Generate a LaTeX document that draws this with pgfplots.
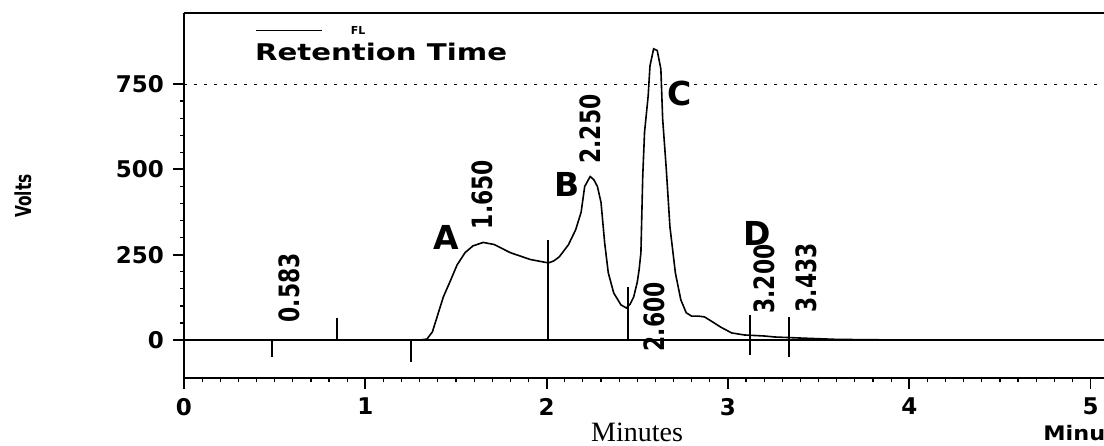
\documentclass[border=0pt]{standalone}
\usepackage{pgfplots}
\pgfplotsset{compat=1.18}
\usepackage{fontspec}
\setmainfont{Liberation Serif}
\newfontfamily\djs{DejaVu Sans}

% rotated retention-time labels (condensed look of the scan)
\newcommand\rt[1]{\scalebox{0.78}[1]{\djs\bfseries\fontsize{14}{14}\selectfont #1}}
\newcommand\pk[1]{\djs\bfseries\fontsize{16.5}{17}\selectfont #1}

\begin{document}
\begin{tikzpicture}
\begin{axis}[
  scale only axis,
  width=460pt, height=182.5pt,
  xmin=0, xmax=5.074,
  ymin=-111, ymax=958,
  axis x line=bottom, axis y line=left,
  axis line style={-, line width=1.1pt},
  tick align=outside,
  major tick length=5.5pt, minor tick length=2pt,
  every tick/.style={black, line width=0.9pt},
  minor tick style={line width=0.6pt},
  xtick={0,1,2,3,4,5},
  minor x tick num=9,
  ytick={0,250,500,750},
  minor y tick num=4,
  /pgf/number format/assume math mode=true,
  ticklabel style={font=\djs\bfseries\fontsize{11.5}{12}\selectfont},
  yticklabel style={xshift=-1pt},
  xticklabel style={yshift=-1pt},
  xlabel={Minutes},
  xlabel style={at={(axis description cs:0.4924,-0.149)}, anchor=center,
    font=\fontsize{14}{14}\selectfont},
  ylabel={\scalebox{0.7}[1]{\djs\bfseries\fontsize{11}{11}\selectfont Volts}},
  ylabel style={at={(axis description cs:-0.175,0.4986)}, anchor=center},
  clip=false,
]
% dashed reference line at 750
\addplot[black, line width=0.5pt, dash pattern=on 1.5pt off 3.5pt] coordinates {(0,750) (5.074,750)};
% baseline
\addplot[black, line width=0.8pt] coordinates {(0,0) (5.074,0)};
% chromatogram trace
\addplot[black, line width=0.8pt] coordinates {
(0,0) (1.30,0) (1.34,3) (1.37,24) (1.40,75) (1.43,126) (1.467,171) (1.506,220)
(1.55,256) (1.594,276) (1.65,286) (1.71,280) (1.80,256) (1.91,236) (2.01,226)
(2.04,232) (2.07,244) (2.12,279) (2.16,323) (2.19,374) (2.21,450) (2.24,479)
(2.26,470) (2.28,450) (2.30,403) (2.32,285) (2.34,197) (2.37,138) (2.41,103)
(2.44,94) (2.46,105) (2.48,126) (2.50,170) (2.51,206) (2.52,256) (2.53,479)
(2.54,609) (2.56,715) (2.57,803) (2.59,853) (2.61,848) (2.63,794) (2.64,647)
(2.66,500) (2.68,332) (2.71,197) (2.74,118) (2.77,80) (2.80,70) (2.84,70)
(2.87,68) (2.91,55) (2.96,38) (3.02,21) (3.09,15) (3.20,12) (3.26,9) (3.40,6)
(3.60,2) (4.00,0) (5.074,0)};
% integration markers
\addplot[black, line width=0.7pt] coordinates {(0.485,0) (0.485,-50)};
\addplot[black, line width=0.7pt] coordinates {(0.844,0) (0.844,64)};
\addplot[black, line width=0.7pt] coordinates {(1.252,0) (1.252,-64)};
\addplot[black, line width=0.7pt] coordinates {(2.008,0) (2.008,294)};
\addplot[black, line width=0.7pt] coordinates {(2.449,0) (2.449,156)};
\addplot[black, line width=0.7pt] coordinates {(3.122,-44) (3.122,74)};
\addplot[black, line width=0.7pt] coordinates {(3.337,-50) (3.337,68)};
% legend line
\addplot[black, line width=0.5pt] coordinates {(0.397,908) (0.761,908)};
\node[font=\djs\bfseries\fontsize{5.5}{6}\selectfont] at (axis cs:0.96,908) {FL};
\node at (axis cs:1.087,844) {\scalebox{1.27}[1]{\djs\bfseries\fontsize{11.5}{12}\selectfont Retention Time}};
% retention time labels
\node[rotate=90, inner sep=0] at (axis cs:0.582,153) {\rt{0.583}};
\node[rotate=90, inner sep=0] at (axis cs:1.643,426) {\rt{1.650}};
\node[rotate=90, inner sep=0] at (axis cs:2.24,618) {\rt{2.250}};
\node[rotate=90, inner sep=0] at (axis cs:2.593,68) {\rt{2.600}};
\node[rotate=90, inner sep=0] at (axis cs:3.20,179) {\rt{3.200}};
\node[rotate=90, inner sep=0] at (axis cs:3.43,182) {\rt{3.433}};
% peak letters
\node[inner sep=0] at (axis cs:1.445,302) {\pk{A}};
\node[inner sep=0] at (axis cs:2.11,457) {\pk{B}};
\node[inner sep=0] at (axis cs:2.736,721) {\pk{C}};
\node[inner sep=0] at (axis cs:3.16,313) {\pk{D}};
% frame top and left extension
\draw[line width=1.1pt] (rel axis cs:0,1) -- (rel axis cs:1,1);
\draw[line width=1.1pt] (rel axis cs:0,0) -- ++(0,-4.5pt);
% cut-off second axis title at the right edge
\node[anchor=west, inner sep=0] at (axis description cs:0.9337,-0.150)
  {\scalebox{1.12}[1]{\djs\bfseries\fontsize{10}{10}\selectfont Minutes}};
\coordinate (sw) at (rel axis cs:0,0);
\coordinate (ne) at (rel axis cs:1,1);
\end{axis}
\pgfresetboundingbox
\path[use as bounding box] ([xshift=-92pt,yshift=-34pt]sw) rectangle ([yshift=6.5pt]ne);
\end{tikzpicture}
\end{document}
